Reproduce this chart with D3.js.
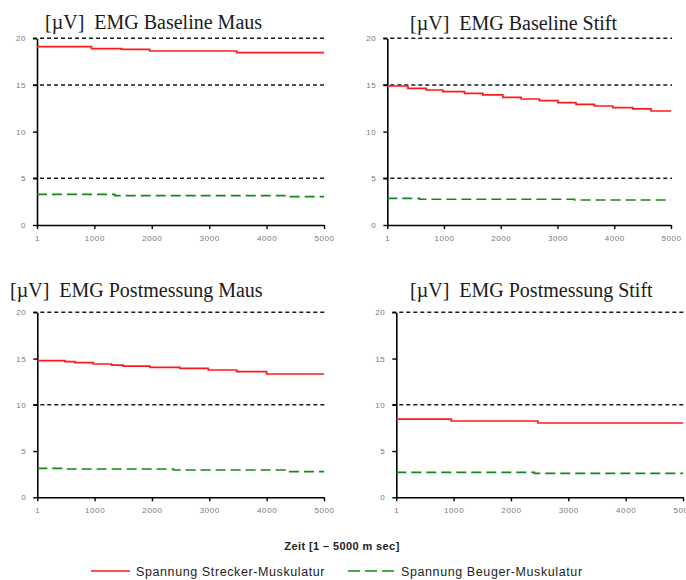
<!DOCTYPE html>
<html><head><meta charset="utf-8">
<script src="https://cdn.jsdelivr.net/npm/d3@7"></script>
<style>
body{margin:0;background:#fff;}
svg{display:block;}
</style></head>
<body>
<svg id="chart" width="686" height="580"></svg>
<script>
// ---- data ----
const timeDomain = [1, 5000];
const valueDomain = [0, 20];
const xTicks = [1, 1000, 2000, 3000, 4000, 5000];
const yTicks = [0, 5, 10, 15, 20];
const panelTitles = ["[\u00b5V]\u00a0 EMG Baseline Maus", "[\u00b5V]\u00a0 EMG Baseline Stift",
                     "[\u00b5V]\u00a0 EMG Postmessung Maus", "[\u00b5V]\u00a0 EMG Postmessung Stift"];
const panelGrid = [[20, 15, 5], [20, 15, 5], [20, 10], [20, 10]];

// Baseline Maus
const bmStreckerT = [1, 950, 1470, 1965, 3480, 5000];
const bmStreckerV = [19.10, 18.89, 18.82, 18.64, 18.46, 18.46];
const bmBeugerT = [1, 1355, 4350, 5000];
const bmBeugerV = [3.29, 3.15, 3.04, 3.04];
// Baseline Stift
const bsStreckerT = [1, 364, 687, 980, 1362, 1685, 2036, 2359, 2682, 3005, 3327, 3650, 3973, 4325, 4648, 5000];
const bsStreckerV = [14.89, 14.64, 14.46, 14.28, 14.10, 13.93, 13.68, 13.50, 13.32, 13.10, 12.93, 12.75, 12.57, 12.43, 12.21, 12.21];
const bsBeugerT = [1, 570, 3300, 5000];
const bsBeugerV = [2.86, 2.76, 2.68, 2.68];
// Postmessung Maus
const pmStreckerT = [1, 483, 657, 977, 1297, 1500, 1965, 2488, 2983, 3477, 4000, 5000];
const pmStreckerV = [14.77, 14.66, 14.56, 14.41, 14.30, 14.19, 14.05, 13.94, 13.76, 13.58, 13.33, 13.33];
const pmBeugerT = [1, 483, 2372, 4320, 5000];
const pmBeugerV = [3.13, 3.06, 2.95, 2.77, 2.77];
// Postmessung Stift
const psStreckerT = [1, 960, 2470, 5000];
const psStreckerV = [8.46, 8.25, 8.03, 8.03];
const psBeugerT = [1, 2410, 5000];
const psBeugerV = [2.70, 2.59, 2.59];

const xAxisTitle = "Zeit [1 \u2013 5000 m sec]";
const legendLabels = ["Spannung Strecker-Muskulatur", "Spannung Beuger-Muskulatur"];

// ---- layout ----
const panels = [
  {x0: 37, x1: 324, yT: 38.3, yB: 225, tx: 45, ty: 29, sT: bmStreckerT, sV: bmStreckerV, bT: bmBeugerT, bV: bmBeugerV},
  {x0: 387.3, x1: 671, yT: 38.3, yB: 225, tx: 410, ty: 29.5, sT: bsStreckerT, sV: bsStreckerV, bT: bsBeugerT, bV: bsBeugerV},
  {x0: 37.3, x1: 324, yT: 312.3, yB: 497.3, tx: 10, ty: 296.5, sT: pmStreckerT, sV: pmStreckerV, bT: pmBeugerT, bV: pmBeugerV},
  {x0: 396.3, x1: 683, yT: 312.3, yB: 497.3, tx: 410, ty: 296.5, sT: psStreckerT, sV: psStreckerV, bT: psBeugerT, bV: psBeugerV}
];

const svg = d3.select("#chart");
const RED = "#ff1a1a", GREEN = "#138a13";

panels.forEach((p, i) => {
  const x = d3.scaleLinear().domain(timeDomain).range([p.x0, p.x1]);
  const y = d3.scaleLinear().domain(valueDomain).range([p.yB, p.yT]);
  const g = svg.append("g");

  // title
  g.append("text").attr("x", p.tx).attr("y", p.ty)
    .attr("font-family", "'Liberation Serif','Times New Roman',serif")
    .attr("font-size", 20).attr("fill", "#1a1a1a")
    .text(panelTitles[i]);

  // grid lines
  g.selectAll("line.grid").data(panelGrid[i]).join("line")
    .attr("class", "grid")
    .attr("x1", p.x0 - 4).attr("x2", i === 3 ? 686 : p.x1 + 1)
    .attr("y1", d => y(d)).attr("y2", d => y(d))
    .attr("stroke", "#1a1a1a").attr("stroke-width", 1.5)
    .attr("stroke-dasharray", "4,3");

  // y axis
  const ya = g.append("g").attr("transform", `translate(${p.x0},0)`)
    .call(d3.axisLeft(y).tickValues(yTicks).tickSize(4).tickPadding(7).tickSizeOuter(0));
  // x axis
  const xa = g.append("g").attr("transform", `translate(0,${p.yB})`)
    .call(d3.axisBottom(x).tickValues(xTicks).tickFormat(d3.format("d")).tickSize(4).tickPadding(6).tickSizeOuter(0));
  [ya, xa].forEach(a => {
    a.select(".domain").attr("stroke", "#000").attr("stroke-width", 1.6);
    a.selectAll(".tick line").attr("stroke", "#000").attr("stroke-width", 1.4);
    a.selectAll(".tick text").attr("fill", "#7a7a7a")
      .attr("font-family", "'Liberation Sans',Arial,sans-serif")
      .attr("font-size", 8).attr("letter-spacing", 0.6);
  });

  const line = d3.line().curve(d3.curveStepAfter).x(d => x(d[0])).y(d => y(d[1]));
  // Beuger (green dashed)
  g.append("path").datum(p.bT.map((t, k) => [t, p.bV[k]]))
    .attr("d", line).attr("fill", "none")
    .attr("stroke", GREEN).attr("stroke-width", 1.7)
    .attr("stroke-dasharray", "10,5");
  // Strecker (red)
  g.append("path").datum(p.sT.map((t, k) => [t, p.sV[k]]))
    .attr("d", line).attr("fill", "none")
    .attr("stroke", RED).attr("stroke-width", 1.7);
});

// x axis title
svg.append("text").attr("x", 342).attr("y", 550).attr("text-anchor", "middle")
  .attr("font-family", "'Liberation Sans',Arial,sans-serif")
  .attr("font-size", 11).attr("font-weight", "bold").attr("fill", "#222")
  .attr("letter-spacing", 0.4)
  .text(xAxisTitle);

// legend
const legend = svg.append("g")
  .attr("font-family", "'Liberation Sans',Arial,sans-serif")
  .attr("font-size", 12.5).attr("fill", "#222");
legend.append("line").attr("x1", 91).attr("x2", 130).attr("y1", 571).attr("y2", 571)
  .attr("stroke", RED).attr("stroke-width", 1.5);
legend.append("text").attr("x", 136).attr("y", 576).attr("letter-spacing", 0.6).text(legendLabels[0]);
legend.append("line").attr("x1", 348).attr("x2", 397).attr("y1", 571).attr("y2", 571)
  .attr("stroke", GREEN).attr("stroke-width", 1.5).attr("stroke-dasharray", "12,5");
legend.append("text").attr("x", 401).attr("y", 576).attr("letter-spacing", 0.6).text(legendLabels[1]);
</script>
</body></html>
